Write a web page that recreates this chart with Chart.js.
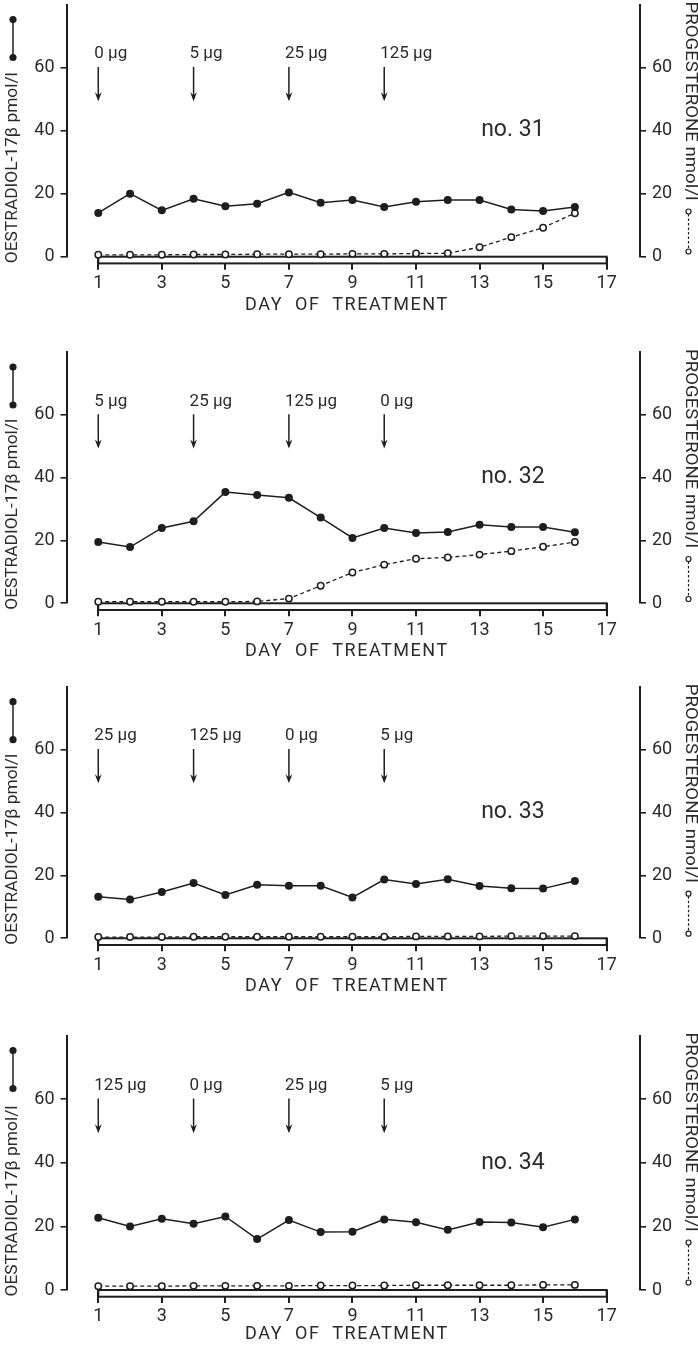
<!DOCTYPE html>
<html><head><meta charset="utf-8">
<script src="https://cdn.jsdelivr.net/npm/chart.js@4.4.1/dist/chart.umd.min.js"></script>
<style>
html,body{margin:0;padding:0;background:#fff;width:698px;height:1345px;overflow:hidden;position:relative}
.p{position:absolute;left:0;width:698px;height:345px}
</style></head><body>
<div class="p" id="w0"><canvas id="c0"></canvas></div>
<div class="p" id="w1"><canvas id="c1"></canvas></div>
<div class="p" id="w2"><canvas id="c2"></canvas></div>
<div class="p" id="w3"><canvas id="c3"></canvas></div>
<script>
// ---------- DATA ----------
const days = [1,2,3,4,5,6,7,8,9,10,11,12,13,14,15,16];
const xTickValues = [1,3,5,7,9,11,13,15,17];
const yTickValues = [0,20,40,60];
const doseDays = [1,4,7,10];
const panelNames = ['no. 31','no. 32','no. 33','no. 34'];

const doses31 = ['0 μg','5 μg','25 μg','125 μg'];
const doses32 = ['5 μg','25 μg','125 μg','0 μg'];
const doses33 = ['25 μg','125 μg','0 μg','5 μg'];
const doses34 = ['125 μg','0 μg','25 μg','5 μg'];

const oestradiol31   = [13.9,20.0,14.7,18.4,16.0,16.8,20.4,17.1,18.0,15.8,17.4,18.0,18.0,15.0,14.5,15.8];
const progesterone31 = [0.6,0.6,0.6,0.7,0.7,0.8,0.8,0.8,0.9,0.9,1.0,1.1,3.0,6.2,9.2,13.8];
const oestradiol32   = [19.5,17.9,24.0,26.1,35.4,34.5,33.6,27.3,20.8,24.0,22.4,22.7,25.0,24.3,24.3,22.6];
const progesterone32 = [0.5,0.5,0.5,0.5,0.5,0.6,1.5,5.6,9.8,12.3,14.2,14.6,15.5,16.6,18.0,19.5];
const oestradiol33   = [13.2,12.3,14.7,17.6,13.8,17.0,16.7,16.7,13.0,18.7,17.3,18.8,16.6,15.9,15.8,18.2];
const progesterone33 = [0.4,0.4,0.4,0.5,0.5,0.5,0.5,0.5,0.5,0.5,0.6,0.6,0.6,0.7,0.7,0.7];
const oestradiol34   = [22.7,20.0,22.4,20.8,23.1,16.0,22.0,18.2,18.3,22.2,21.3,18.9,21.4,21.2,19.7,22.2];
const progesterone34 = [1.2,1.2,1.2,1.3,1.3,1.3,1.3,1.4,1.4,1.4,1.5,1.5,1.5,1.5,1.6,1.6];

const leftTitle = 'OESTRADIOL-17β pmol/l';
const rightTitle = 'PROGESTERONE nmol/l';
const xTitle = 'DAY  OF  TREATMENT';

// ---------- STYLE / LAYOUT ----------
const INK = '#1e1e1e';
const TXT = '#2b2b2b';
const FAM = 'Roboto, "DejaVu Sans", sans-serif';
const H = 345;
const panelGeom = [ // plot top (value 80) and zero-line pixel
  {yt: 4.5,    y0: 256.7, dayDy: 49},
  {yt: 352.0,  y0: 603.3, dayDy: 48},
  {yt: 686.7,  y0: 938.3, dayDy: 48},
  {yt: 1035.5, y0: 1290.0, dayDy: 44}
];

function fitText(ctx, text, x, y, width) {
  const w = ctx.measureText(text).width;
  ctx.save();
  ctx.translate(x, y);
  ctx.scale(width / w, 1);
  ctx.fillText(text, 0, 0);
  ctx.restore();
}

const deco = {
  id: 'deco',
  beforeDatasetsDraw(chart, args, o) {
    const {ctx} = chart; const x = chart.scales.x, y = chart.scales.y;
    const x1 = x.getPixelForValue(1), x2 = x.getPixelForValue(17);
    const y0 = y.getPixelForValue(0);
    ctx.save();
    ctx.fillStyle = '#fff';
    ctx.fillRect(x1, y0, x2 - x1, 6.7);
    ctx.strokeStyle = INK; ctx.lineWidth = 2;
    ctx.strokeRect(x1, y0, x2 - x1, 6.7);
    ctx.restore();
  },
  afterDraw(chart, args, o) {
    const {ctx} = chart; const x = chart.scales.x, y = chart.scales.y;
    const ca = chart.chartArea;
    ctx.save();
    ctx.fillStyle = TXT; ctx.strokeStyle = INK;
    // dose labels + arrows
    ctx.font = '17px ' + FAM;
    ctx.textAlign = 'left'; ctx.textBaseline = 'middle';
    o.doses.forEach((d, i) => {
      const xp = x.getPixelForValue(doseDays[i]);
      ctx.fillText(d, xp - 4, y.getPixelForValue(64.3));
      const yA = y.getPixelForValue(60.2), yB = y.getPixelForValue(49.3);
      ctx.lineWidth = 1.5;
      ctx.beginPath(); ctx.moveTo(xp, yA); ctx.lineTo(xp, yB - 3); ctx.stroke();
      ctx.beginPath(); ctx.moveTo(xp, yB); ctx.lineTo(xp - 3.4, yB - 9); ctx.lineTo(xp, yB - 6); ctx.lineTo(xp + 3.4, yB - 9); ctx.closePath(); ctx.fillStyle = INK; ctx.fill();
      ctx.fillStyle = TXT;
    });
    // panel name
    ctx.font = '23px ' + FAM;
    ctx.fillText(o.name, x.getPixelForValue(13.05), y.getPixelForValue(40));
    // x title
    ctx.font = '18px ' + FAM;
    ctx.textBaseline = 'middle';
    const target = 202;
    const w0 = ctx.measureText(xTitle).width;
    const ls = (target - w0) / (xTitle.length - 1);
    ctx.letterSpacing = ls.toFixed(2) + 'px';
    const cx = x.getPixelForValue(8.8);
    ctx.fillText(xTitle, cx - target / 2, ca.bottom + o.dayDy);
    ctx.letterSpacing = '0px';
    // left title (rotated, bottom to top)
    ctx.font = '17px ' + FAM;
    ctx.save();
    ctx.translate(13, ca.bottom + 6.5);
    ctx.rotate(-Math.PI / 2);
    fitText(ctx, leftTitle, 0, 0, 191);
    ctx.restore();
    // left legend symbol
    ctx.lineWidth = 1.5;
    ctx.beginPath(); ctx.moveTo(13, ca.top + 15); ctx.lineTo(13, ca.top + 53); ctx.stroke();
    ctx.fillStyle = INK;
    [15, 53].forEach(d => { ctx.beginPath(); ctx.arc(13, ca.top + d, 3.6, 0, Math.PI * 2); ctx.fill(); });
    ctx.fillStyle = TXT;
    // right title (rotated, top to bottom)
    ctx.save();
    ctx.translate(690.7, ca.top - 3);
    ctx.rotate(Math.PI / 2);
    fitText(ctx, rightTitle, 0, 0, 199);
    ctx.restore();
    // right legend symbol
    ctx.lineWidth = 1.2;
    ctx.setLineDash([2.5, 2]);
    ctx.beginPath(); ctx.moveTo(688.5, ca.top + 209.5); ctx.lineTo(688.5, ca.top + 244.5); ctx.stroke();
    ctx.setLineDash([]);
    [207, 247].forEach(d => { ctx.beginPath(); ctx.arc(688.5, ca.top + d, 2.5, 0, Math.PI * 2); ctx.fillStyle = '#fff'; ctx.fill(); ctx.stroke(); });
    ctx.restore();
  }
};

function makeChart(idx, oes, prog, doses) {
  const g = panelGeom[idx];
  const top = Math.floor(g.yt) - 12;
  const padTop = g.yt - top;
  const XH = H - (g.y0 - top);
  document.getElementById('w' + idx).style.top = top + 'px';
  const tickFont = {family: FAM, size: 18};
  return new Chart(document.getElementById('c' + idx), {
    type: 'line',
    data: {
      datasets: [
        {
          label: 'Oestradiol-17β', yAxisID: 'y',
          data: days.map((d, i) => ({x: d, y: oes[i]})),
          borderColor: INK, borderWidth: 1.5, backgroundColor: INK,
          pointRadius: 4, pointBackgroundColor: INK, pointBorderWidth: 0,
          tension: 0, clip: false
        },
        {
          label: 'Progesterone', yAxisID: 'y2',
          data: days.map((d, i) => ({x: d, y: prog[i]})),
          borderColor: INK, borderWidth: 1.3, borderDash: [4, 3],
          pointRadius: 3.2, pointBackgroundColor: '#fff', pointBorderColor: INK, pointBorderWidth: 1.5,
          tension: 0, clip: false
        }
      ]
    },
    options: {
      responsive: true, maintainAspectRatio: false, animation: false,
      layout: {padding: {top: padTop, left: 0, right: 0, bottom: 0}},
      plugins: {
        legend: {display: false}, tooltip: {enabled: false},
        deco: {doses: doses, name: panelNames[idx], dayDy: g.dayDy}
      },
      scales: {
        x: {
          type: 'linear', position: 'bottom', min: 0, max: 18.05,
          afterBuildTicks: s => { s.ticks = xTickValues.map(v => ({value: v})); },
          afterFit: s => { s.height = XH; s.paddingLeft = 0; s.paddingRight = 0; },
          border: {display: false},
          grid: {display: true, drawOnChartArea: false, drawTicks: true, tickLength: 13, lineWidth: 2, color: INK},
          ticks: {font: tickFont, color: TXT, padding: 3, maxRotation: 0, autoSkip: false, callback: v => String(v)}
        },
        y: {
          type: 'linear', position: 'left', min: 0, max: 80,
          afterBuildTicks: s => { s.ticks = yTickValues.map(v => ({value: v})); },
          afterFit: s => { s.width = 66.5; s.paddingTop = 0; s.paddingBottom = 0; },
          border: {display: true, width: 2, color: INK},
          grid: {drawOnChartArea: false, drawTicks: true, tickLength: 6, lineWidth: 1.6, color: INK},
          ticks: {font: tickFont, color: TXT, padding: 6, callback: v => String(v)}
        },
        y2: {
          type: 'linear', position: 'right', min: 0, max: 80,
          afterBuildTicks: s => { s.ticks = yTickValues.map(v => ({value: v})); },
          afterFit: s => { s.width = 58; s.paddingTop = 0; s.paddingBottom = 0; },
          border: {display: true, width: 2, color: INK},
          grid: {drawOnChartArea: false, drawTicks: true, tickLength: 6, lineWidth: 1.6, color: INK},
          ticks: {font: tickFont, color: TXT, padding: 6, callback: v => String(v)}
        }
      }
    },
    plugins: [deco]
  });
}

makeChart(0, oestradiol31, progesterone31, doses31);
makeChart(1, oestradiol32, progesterone32, doses32);
makeChart(2, oestradiol33, progesterone33, doses33);
makeChart(3, oestradiol34, progesterone34, doses34);
</script>
</body></html>
